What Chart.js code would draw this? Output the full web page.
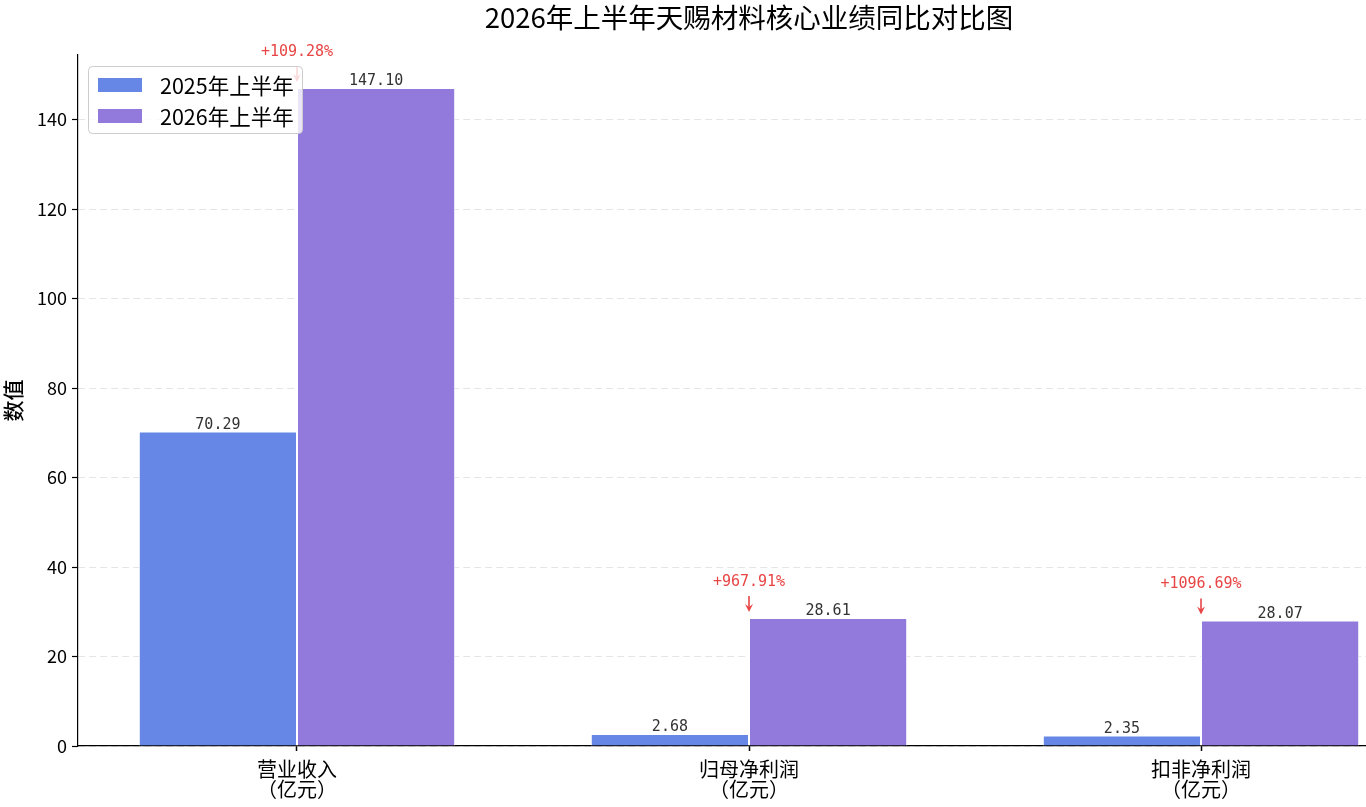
<!DOCTYPE html>
<html>
<head>
<meta charset="utf-8">
<script src="https://cdn.jsdelivr.net/npm/chart.js@4"></script>
<style>
  html, body { margin: 0; padding: 0; background: #fff; overflow: hidden; }
  #wrap { width: 1366px; height: 807px; }
</style>
</head>
<body>
<div id="wrap"><canvas id="chart" width="1366" height="807"></canvas></div>
<script>
// chart data
const categories = ['营业收入', '归母净利润', '扣非净利润'];
const unitLabel = '（亿元）';
const seriesNames = ['2025年上半年', '2026年上半年'];
const values2025 = [70.29, 2.68, 2.35];
const values2026 = [147.10, 28.61, 28.07];
const growthLabels = ['+109.28%', '+967.91%', '+1096.69%'];
const yTicks = [0, 20, 40, 60, 80, 100, 120, 140];

const FONT = "'Noto Sans CJK SC', 'Noto Sans', sans-serif";
const MONO = "'DejaVu Sans Mono', 'Liberation Mono', monospace";
const blue = 'rgb(103,135,231)';
const purple = 'rgb(145,122,219)';

// draws title, value labels, growth arrows and the legend box
const annotate = {
  id: 'annotate',
  afterDatasetsDraw(chart) {
    const ctx = chart.ctx;
    const x = chart.scales.x, y = chart.scales.y;
    ctx.save();

    // title, centred on the middle category
    ctx.fillStyle = '#000';
    ctx.font = '27.5px ' + FONT;
    ctx.textAlign = 'center';
    ctx.textBaseline = 'middle';
    ctx.fillText('2026年上半年天赐材料核心业绩同比对比图', x.getPixelForValue(1), 18);

    // value labels above each bar
    ctx.font = '15px ' + MONO;
    ctx.fillStyle = '#333';
    ctx.textBaseline = 'bottom';
    chart.data.datasets.forEach((ds, di) => {
      chart.getDatasetMeta(di).data.forEach((bar, i) => {
        ctx.fillText(ds.data[i].y.toFixed(2), bar.x, bar.y + 1);
      });
    });

    // growth text + arrow at the boundary between the two bars
    ctx.fillStyle = '#e84545';
    ctx.strokeStyle = '#e84545';
    ctx.textBaseline = 'middle';
    categories.forEach((c, i) => {
      const cx = x.getPixelForValue(i);
      const top = y.getPixelForValue(values2026[i]);
      ctx.fillText(growthLabels[i], cx, top - 36);
      const y0 = top - 22, y1 = top - 6;
      ctx.lineWidth = 1.6;
      ctx.beginPath();
      ctx.moveTo(cx, y0);
      ctx.lineTo(cx, y1 - 2);
      ctx.stroke();
      ctx.beginPath();
      ctx.moveTo(cx - 4, y1 - 8);
      ctx.lineTo(cx, y1);
      ctx.lineTo(cx + 4, y1 - 8);
      ctx.lineTo(cx, y1 - 5);
      ctx.closePath();
      ctx.fill();
    });

    // legend box (semi transparent, upper left)
    const lx = 88, ly = 66, lw = 214, lh = 67;
    ctx.beginPath();
    ctx.roundRect(lx + 0.5, ly + 0.5, lw, lh, 4);
    ctx.fillStyle = 'rgba(255,255,255,0.8)';
    ctx.fill();
    ctx.strokeStyle = '#cccccc';
    ctx.lineWidth = 1;
    ctx.stroke();
    ctx.font = '21.5px ' + FONT;
    ctx.textAlign = 'left';
    ctx.textBaseline = 'middle';
    seriesNames.forEach((name, i) => {
      const ry = 85 + i * 31;
      ctx.fillStyle = i === 0 ? blue : purple;
      ctx.fillRect(98, ry - 7, 44, 14);
      ctx.fillStyle = '#000';
      ctx.fillText(name, 160, ry + 1);
    });

    ctx.restore();
  }
};

const ctx = document.getElementById('chart').getContext('2d');
const chart = new Chart(ctx, {
  type: 'bar',
  data: {
    datasets: [
      {
        label: seriesNames[0],
        data: values2025.map((v, i) => ({ x: i, y: v })),
        backgroundColor: blue,
        borderColor: '#ffffff',
        borderWidth: 1,
        categoryPercentage: 0.7,
        barPercentage: 1.0
      },
      {
        label: seriesNames[1],
        data: values2026.map((v, i) => ({ x: i, y: v })),
        backgroundColor: purple,
        borderColor: '#ffffff',
        borderWidth: 1,
        categoryPercentage: 0.7,
        barPercentage: 1.0
      }
    ]
  },
  options: {
    responsive: false,
    animation: false,
    devicePixelRatio: 1,
    layout: { padding: { top: 55, left: 0, right: 0, bottom: 0 } },
    plugins: {
      legend: { display: false },
      tooltip: { enabled: false }
    },
    scales: {
      x: {
        type: 'linear',
        offset: false,
        min: -0.4845,
        max: 2.365,
        afterBuildTicks: axis => { axis.ticks = categories.map((c, i) => ({ value: i })); },
        afterFit: axis => { axis.height = 61; },
        grid: {
          offset: false,
          drawOnChartArea: false,
          drawTicks: true,
          tickLength: 5,
          tickColor: '#000',
          tickWidth: 1.5
        },
        border: { display: true, color: '#000', width: 1.2 },
        ticks: {
          color: '#000',
          padding: 8,
          font: { family: FONT, size: 20, lineHeight: 1.0 },
          maxRotation: 0,
          autoSkip: false,
          callback: v => [categories[v], unitLabel]
        }
      },
      y: {
        min: 0,
        max: 154.45,
        afterBuildTicks: axis => { axis.ticks = yTicks.map(v => ({ value: v })); },
        afterFit: axis => { axis.width = 78; },
        grid: {
          color: 'rgba(0,0,0,0.1)',
          lineWidth: 1,
          drawTicks: true,
          tickLength: 6,
          tickColor: '#000',
          tickWidth: 1.2,
          tickBorderDash: []
        },
        border: { display: true, color: '#000', width: 1.2, dash: [7, 4] },
        ticks: {
          color: '#000',
          padding: 5,
          font: { family: FONT, size: 18 }
        },
        title: {
          display: true,
          text: '数值',
          color: '#000',
          font: { family: FONT, size: 21, weight: '500' },
          padding: { top: 0, bottom: 0 }
        }
      }
    }
  },
  plugins: [annotate]
});
</script>
</body>
</html>
